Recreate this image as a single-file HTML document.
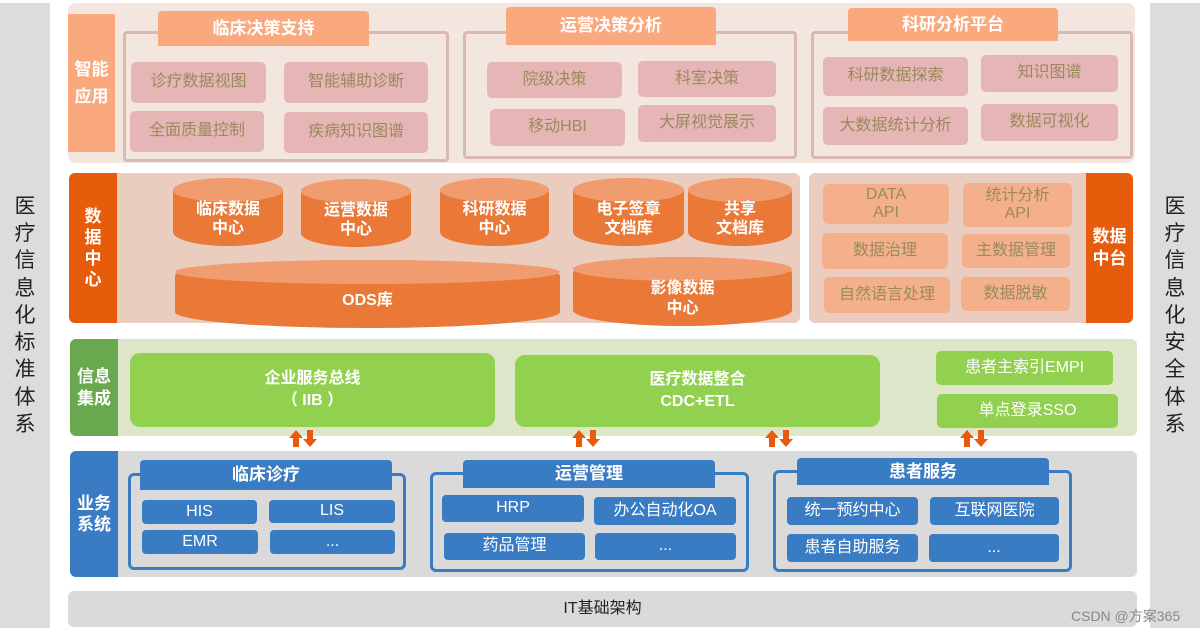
<!DOCTYPE html><html><head><meta charset="utf-8"><style>
body{margin:0;width:1202px;height:633px;background:#fff;position:relative;overflow:hidden;font-family:"Liberation Sans","Noto Sans CJK SC",sans-serif}
.b{position:absolute;display:flex;align-items:center;justify-content:center;text-align:center;box-sizing:border-box;line-height:1.15}
.p{background:#e6b5b5;color:#9a8a5e;font-size:16px;border-radius:5px}
.h{background:#f9a97d;color:#fff;font-weight:bold;font-size:17px;border-radius:4px 4px 0 0}
.g{border:3px solid #d9b9b0;border-radius:4px}
.o{background:#f4b08a;color:#9a8a5e;font-size:16px;border-radius:5px}
.gr{background:#92d050;color:#fff;font-weight:bold;font-size:16px;border-radius:10px}
.bl{background:#3a7cc4;color:#fff;font-size:16px;border-radius:4px}
.bg{border:3px solid #3a7cc4;border-radius:6px}
.cy{position:absolute;background:#ea7836;color:#fff;font-weight:bold;font-size:16px;display:flex;align-items:center;justify-content:center;text-align:center;line-height:1.2;border-radius:50%/14px;box-sizing:border-box;padding-top:14px}
.cy:before{content:"";position:absolute;left:0;right:0;top:0;height:24px;background:#f09c6e;border-radius:50%}
.cy span{position:relative}
.lab{color:#fff;font-weight:bold;font-size:17px;line-height:1.45}
</style></head><body>
<div class="b" style="left:0;top:3px;width:50px;height:625px;background:#dcdcdc;font-size:21px;line-height:1.3;color:#222">医<br>疗<br>信<br>息<br>化<br>标<br>准<br>体<br>系</div>
<div class="b" style="left:1150px;top:3px;width:50px;height:625px;background:#dcdcdc;font-size:21px;line-height:1.3;color:#222">医<br>疗<br>信<br>息<br>化<br>安<br>全<br>体<br>系</div>

<div class="b" style="left:68px;top:3px;width:1067px;height:160px;background:#f3e6de;border-radius:8px"></div>
<div class="b lab" style="left:68px;top:14px;width:47px;height:138px;background:#f9a97d;font-size:17px;line-height:1.6">智能<br>应用</div>
<div class="b g" style="left:123px;top:31px;width:326px;height:131px"></div>
<div class="b h" style="left:158px;top:11px;width:211px;height:35px">临床决策支持</div>
<div class="b p" style="left:131px;top:62px;width:135px;height:41px">诊疗数据视图</div>
<div class="b p" style="left:284px;top:62px;width:144px;height:41px">智能辅助诊断</div>
<div class="b p" style="left:130px;top:111px;width:134px;height:41px">全面质量控制</div>
<div class="b p" style="left:284px;top:112px;width:144px;height:41px">疾病知识图谱</div>
<div class="b g" style="left:463px;top:31px;width:334px;height:128px"></div>
<div class="b h" style="left:506px;top:7px;width:210px;height:38px">运营决策分析</div>
<div class="b p" style="left:487px;top:62px;width:135px;height:36px">院级决策</div>
<div class="b p" style="left:638px;top:61px;width:138px;height:36px">科室决策</div>
<div class="b p" style="left:490px;top:109px;width:135px;height:37px">移动HBI</div>
<div class="b p" style="left:638px;top:105px;width:138px;height:37px">大屏视觉展示</div>
<div class="b g" style="left:811px;top:31px;width:322px;height:128px"></div>
<div class="b h" style="left:848px;top:8px;width:210px;height:33px">科研分析平台</div>
<div class="b p" style="left:823px;top:57px;width:145px;height:39px">科研数据探索</div>
<div class="b p" style="left:981px;top:55px;width:137px;height:37px">知识图谱</div>
<div class="b p" style="left:823px;top:107px;width:145px;height:38px">大数据统计分析</div>
<div class="b p" style="left:981px;top:104px;width:137px;height:37px">数据可视化</div>

<div class="b" style="left:69px;top:173px;width:731px;height:150px;background:#ebcdbf;border-radius:6px"></div>
<div class="b lab" style="left:69px;top:173px;width:48px;height:150px;background:#e65c0a;border-radius:6px 0 0 6px;line-height:1.25">数<br>据<br>中<br>心</div>
<div class="cy" style="left:173px;top:178px;width:110px;height:68px"><span>临床数据<br>中心</span></div>
<div class="cy" style="left:301px;top:179px;width:110px;height:68px"><span>运营数据<br>中心</span></div>
<div class="cy" style="left:440px;top:178px;width:109px;height:68px"><span>科研数据<br>中心</span></div>
<div class="cy" style="left:573px;top:178px;width:111px;height:68px"><span>电子签章<br>文档库</span></div>
<div class="cy" style="left:688px;top:178px;width:104px;height:68px"><span>共享<br>文档库</span></div>
<div class="cy" style="left:175px;top:260px;width:385px;height:68px;border-radius:50%/16px"><span>ODS库</span></div>
<div class="cy" style="left:573px;top:257px;width:219px;height:69px;border-radius:50%/16px"><span>影像数据<br>中心</span></div>

<div class="b" style="left:809px;top:173px;width:324px;height:150px;background:#ebcdbf;border-radius:6px"></div>
<div class="b lab" style="left:1086px;top:173px;width:47px;height:150px;background:#e65c0a;border-radius:0 6px 6px 0;line-height:1.3">数据<br>中台</div>
<div class="b o" style="left:823px;top:184px;width:126px;height:40px">DATA<br>API</div>
<div class="b o" style="left:963px;top:183px;width:109px;height:44px">统计分析<br>API</div>
<div class="b o" style="left:822px;top:233px;width:126px;height:36px">数据治理</div>
<div class="b o" style="left:962px;top:234px;width:108px;height:34px">主数据管理</div>
<div class="b o" style="left:824px;top:277px;width:126px;height:36px">自然语言处理</div>
<div class="b o" style="left:961px;top:277px;width:109px;height:34px">数据脱敏</div>

<div class="b" style="left:70px;top:339px;width:1067px;height:97px;background:#dde6c8;border-radius:6px"></div>
<div class="b lab" style="left:70px;top:339px;width:48px;height:97px;background:#6aa84f;border-radius:6px 0 0 6px;line-height:1.25">信息<br>集成</div>
<div class="b gr" style="left:130px;top:353px;width:365px;height:74px;line-height:1.4">企业服务总线<br>（ IIB ）</div>
<div class="b gr" style="left:515px;top:355px;width:365px;height:72px;line-height:1.4">医疗数据整合<br>CDC+ETL</div>
<div class="b gr" style="left:936px;top:351px;width:177px;height:34px;font-weight:normal;border-radius:5px">患者主索引EMPI</div>
<div class="b gr" style="left:937px;top:394px;width:181px;height:34px;font-weight:normal;border-radius:5px">单点登录SSO</div>

<svg style="position:absolute;left:0;top:0" width="1202" height="633">
<g fill="#e95b0c">
<path id="ar" d="M289 438 L296 430 L303 438 L299 438 L299 447 L293 447 L293 438Z M307 430 L313 430 L313 439 L317 439 L310 447 L303 439 L307 439Z"/>
<use href="#ar" x="283"/><use href="#ar" x="476"/><use href="#ar" x="671"/>
</g></svg>

<div class="b" style="left:70px;top:451px;width:1067px;height:126px;background:#dadada;border-radius:6px"></div>
<div class="b lab" style="left:70px;top:451px;width:48px;height:126px;background:#3a7cc4;border-radius:6px 0 0 6px;line-height:1.25">业务<br>系统</div>
<div class="b bg" style="left:128px;top:473px;width:278px;height:97px"></div>
<div class="b bl" style="left:140px;top:460px;width:252px;height:30px;font-weight:bold;font-size:17px;border-radius:4px 4px 0 0">临床诊疗</div>
<div class="b bl" style="left:142px;top:500px;width:115px;height:24px">HIS</div>
<div class="b bl" style="left:269px;top:500px;width:126px;height:23px">LIS</div>
<div class="b bl" style="left:142px;top:530px;width:116px;height:24px">EMR</div>
<div class="b bl" style="left:270px;top:530px;width:125px;height:24px">...</div>
<div class="b bg" style="left:430px;top:472px;width:319px;height:100px"></div>
<div class="b bl" style="left:463px;top:460px;width:252px;height:28px;font-weight:bold;font-size:17px;border-radius:4px 4px 0 0">运营管理</div>
<div class="b bl" style="left:442px;top:495px;width:142px;height:27px">HRP</div>
<div class="b bl" style="left:594px;top:497px;width:142px;height:28px">办公自动化OA</div>
<div class="b bl" style="left:444px;top:533px;width:141px;height:27px">药品管理</div>
<div class="b bl" style="left:595px;top:533px;width:141px;height:27px">...</div>
<div class="b bg" style="left:773px;top:470px;width:299px;height:102px"></div>
<div class="b bl" style="left:797px;top:458px;width:252px;height:27px;font-weight:bold;font-size:17px;border-radius:4px 4px 0 0">患者服务</div>
<div class="b bl" style="left:787px;top:497px;width:131px;height:28px">统一预约中心</div>
<div class="b bl" style="left:930px;top:497px;width:129px;height:28px">互联网医院</div>
<div class="b bl" style="left:787px;top:534px;width:131px;height:28px">患者自助服务</div>
<div class="b bl" style="left:929px;top:534px;width:130px;height:28px">...</div>

<div class="b" style="left:68px;top:591px;width:1069px;height:36px;background:#dadada;border-radius:6px;font-size:16px;color:#222">IT基础架构</div>
<div style="position:absolute;left:1071px;top:606px;font-size:14px;color:#888">CSDN @方案365</div>
</body></html>
